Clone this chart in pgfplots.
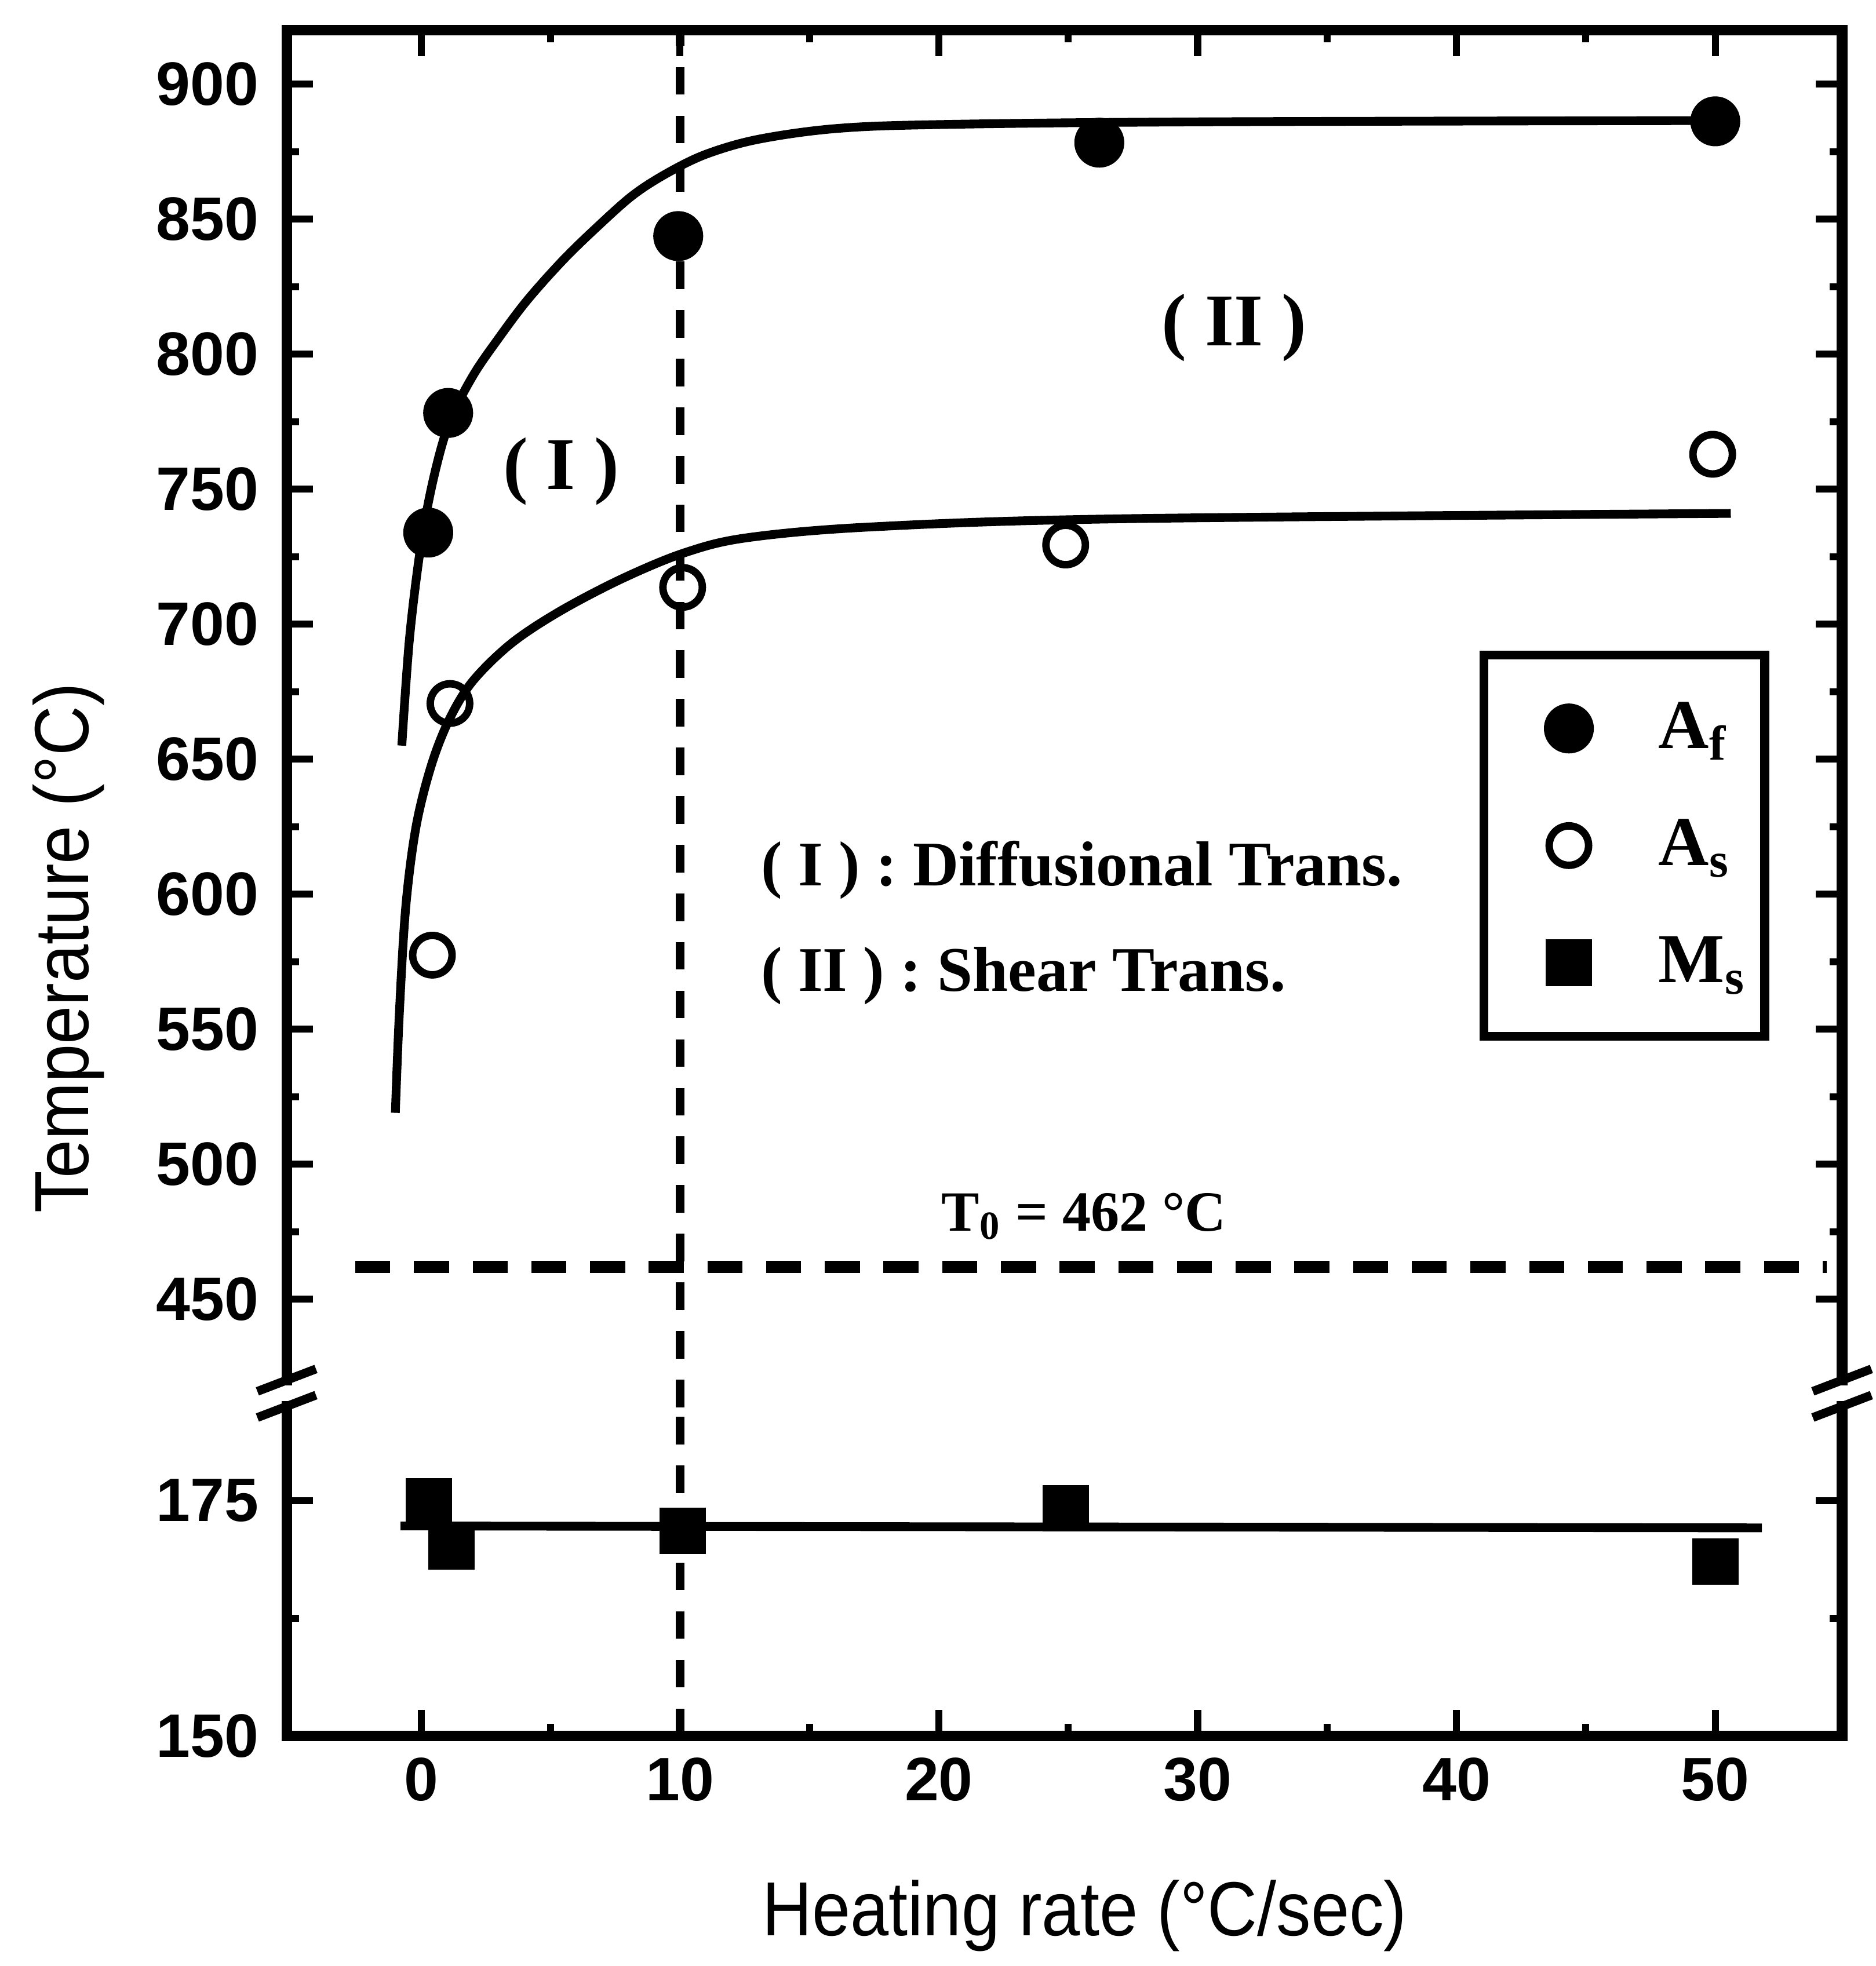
\documentclass[border=0pt]{standalone}
\usepackage{fontspec}
\setmainfont{Liberation Sans}
\newfontfamily\serifbf{Liberation Serif}
\newfontfamily\labfont[FakeStretch=0.9]{Liberation Sans}
\usepackage{pgfplots}
\pgfplotsset{compat=1.18}
\usetikzlibrary{calc}

\pgfplotsset{
  brk/.style={
    scale only axis, width=12.48cm,
    xmin=-5.2, xmax=54.9,
    xtick={0,10,...,50}, minor xtick={5,15,...,45},
    tick align=inside,
    axis line style={line width=2.4pt, line cap=rect},
    major tick length=0.21cm, minor tick length=0.1cm,
    every tick/.append style={line width=1.6pt, black},
    every minor tick/.append style={line width=1.6pt, black},
    tick label style={font=\fontsize{14}{16}\selectfont\bfseries},
    /pgf/number format/assume math mode=true,
    clip=false,
  },
}

\begin{document}
\begin{tikzpicture}
% upper part of the broken axis
\begin{axis}[brk, name=up, at={(0,0)}, anchor=north west, height=10.835cm,
  ymin=420, ymax=920,
  ytick={450,500,...,900}, minor ytick={475,525,...,875},
  axis x line*=top, xticklabels={},
  yticklabel style={xshift=-0.1cm},
  ylabel={Temperature (°C)},
  ylabel style={font=\labfont\fontsize{17.5}{20}\selectfont,
    at={(axis description cs:-0.1402,0.320)}, anchor=center},
  legend style={at={(axis cs:40.9,690.2)}, anchor=north west,
    draw=black, line width=2pt, fill=white,
    inner xsep=0.15cm, inner ysep=0.34cm, row sep=0.44cm,
    font=\serifbf\bfseries\fontsize{16}{18}\selectfont,
    nodes={inner sep=0pt, minimum height=0.5cm},
    /tikz/every odd column/.append style={column sep=0.47cm}},
  legend cell align=left,
  legend image code/.code={
    \path[draw=none, fill=none] (0cm,-0.25cm) rectangle (0.78cm,0.25cm);
    \draw[mark repeat=2,mark phase=2,#1] plot coordinates {(0.28cm,0cm) (0.53cm,0cm) (0.78cm,0cm)};},
]
\addplot[only marks, mark=*, mark size=5.4pt, line width=0.6pt] coordinates {
  (0.27,733.9) (1.04,778.2) (9.93,843.7) (26.2,878.3) (50.0,886.2)};
\addlegendentry{A\textsubscript{f}}
\addplot[only marks, mark=o, mark size=4.5pt, line width=1.7pt] coordinates {
  (0.43,577.4) (1.11,670.6) (10.1,713.6) (24.9,729.3) (49.9,762.9)};
\addlegendentry{A\textsubscript{s}}
\addlegendimage{only marks, mark=square*, mark size=5pt, line width=0.6pt}
\addlegendentry{M\textsubscript{s}}

% fitted curves
\addplot[smooth, tension=0.55, line width=2pt, forget plot] coordinates {
  (-0.75,655) (-0.45,695) (0,730) (0.5,755) (1.1,775) (2.0,792) (3.0,806)
  (4.1,820) (5.5,835) (6.9,848) (8.2,859) (9.5,867) (11,874) (13,879.5)
  (16,883.5) (20,885) (30,886) (50.8,886.5)};
\addplot[smooth, tension=0.55, line width=2pt, forget plot] coordinates {
  (-1.0,519) (-0.85,555) (-0.6,595) (-0.2,625) (0.4,648) (1.1,665) (2.0,679)
  (3.5,693) (5.4,705) (7.8,717) (10.2,726.5) (12.6,732) (17.4,736) (27,739) (50.6,741)};

% reference lines
\addplot[line width=2pt, dash pattern=on 6.3pt off 4.8pt, forget plot] coordinates {(10,410) (10,920)};
\addplot[line width=2.8pt, dash pattern=on 8pt off 5.4pt, forget plot] coordinates {(-2.55,462) (54.3,462)};

\node[font=\serifbf\bfseries\fontsize{17}{19}\selectfont] at (axis cs:5.4,756.6) {( I )};
\node[font=\serifbf\bfseries\fontsize{17}{19}\selectfont] at (axis cs:31.4,809.7) {( II )};
\node[font=\serifbf\bfseries\fontsize{14.5}{16}\selectfont, anchor=west, inner sep=0pt] at (axis cs:13.1,609.0) {( I ) : Diffusional Trans.};
\node[font=\serifbf\bfseries\fontsize{14.5}{16}\selectfont, anchor=west, inner sep=0pt] at (axis cs:13.1,569.7) {( II ) : Shear Trans.};
\node[font=\serifbf\bfseries\fontsize{13}{15}\selectfont] at (axis cs:25.6,480.7) {T\textsubscript{0} = 462 °C};
\end{axis}

% lower part of the broken axis
\begin{axis}[brk, name=low, at={($(up.south west)+(0,-0.21cm)$)}, anchor=north west,
  height=2.646cm,
  ymin=150, ymax=185,
  ytick={150,175}, minor ytick={162.5},
  axis x line*=bottom,
  yticklabel style={xshift=-0.1cm},
  xticklabel style={yshift=-0.05cm},
  xlabel={Heating rate (°C/sec)},
  xlabel style={font=\labfont\fontsize{17.5}{20}\selectfont,
    at={(axis description cs:0.513,-0.605)}, anchor=base},
]
\addplot[only marks, mark=square*, mark size=5pt, line width=0.6pt] coordinates {
  (0.29,174.9) (1.16,170.1) (10.1,171.8) (24.9,174.2) (50.0,168.5)};
\addplot[line width=2pt] coordinates {(-0.8,172.3) (51.8,172.1)};
\addplot[line width=2pt, dash pattern=on 6.3pt off 4.8pt] coordinates {(10,150) (10,185)};
\end{axis}

% break marks
\foreach \p in {up.south west, up.south east, low.north west, low.north east}
  \draw[line width=2pt] ($(\p)+(-0.235cm,-0.09cm)$) -- ($(\p)+(0.235cm,0.09cm)$);

\path (-2.30cm,0.16cm) rectangle (12.63cm,-15.52cm);
\end{tikzpicture}
\end{document}
